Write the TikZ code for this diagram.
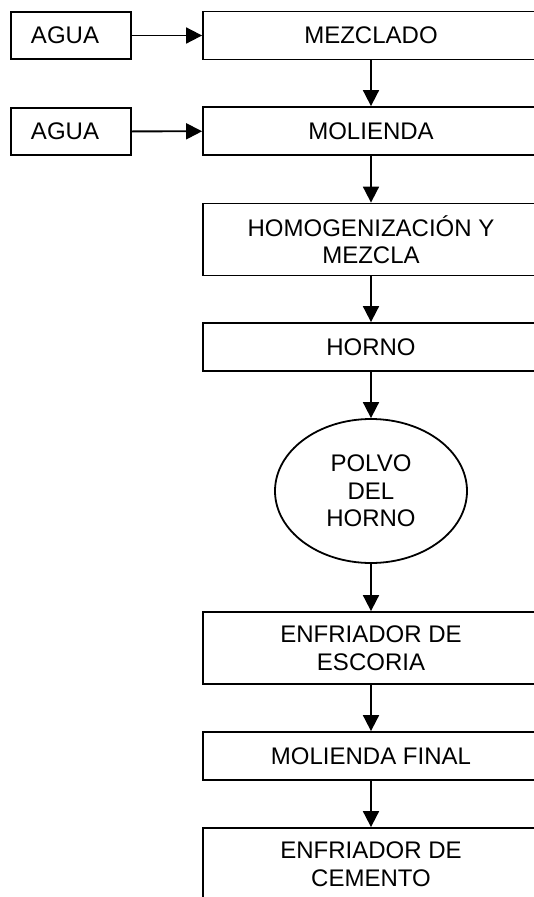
\documentclass[tikz,border=0pt]{standalone}
\usepackage{fontspec}
\setmainfont{Liberation Sans}
\usetikzlibrary{shapes.geometric,arrows.meta}
\begin{document}
\begin{tikzpicture}[
    x=1pt, y=-1pt,
    stage/.style={
        rectangle,
        draw=black,
        line width=1.8pt,
        minimum width=336pt,
        minimum height=48pt,
        inner sep=0pt,
        align=center,
        font=\fontsize{24}{27.5}\selectfont
    },
    tall/.style={
        minimum height=72pt
    },
    feed/.style={
        stage,
        minimum width=120pt,
        minimum height=47pt
    },
    dust/.style={
        ellipse,
        draw=black,
        line width=1.8pt,
        minimum width=192pt,
        minimum height=144pt,
        inner sep=0pt,
        align=center,
        font=\fontsize{24}{27.5}\selectfont
    },
    arrow/.style={
        -{Triangle[length=16pt,width=16pt]},
        line width=1.8pt,
        black
    }
]

% Page frame (boxes run past the right and bottom edges)
\useasboundingbox (0,0) rectangle (534,897);
\fill[white] (0,0) rectangle (534,897);
\clip (0,0) rectangle (534,897);

% Water inputs
\node[feed] (agua1) at (71, 35.5) {AGUA\hspace*{12pt}};
\node[feed] (agua2) at (71, 131.5) {AGUA\hspace*{12pt}};

% Process stages
\node[stage] (mez) at (371, 35.5) {MEZCLADO};
\node[stage] (mol) at (371, 131) {MOLIENDA};
\node[stage, tall] (homo) at (371, 239.5) {HOMOGENIZACIÓN Y\\MEZCLA};
\node[stage] (horno) at (371, 347) {HORNO};
\node[dust] (polvo) at (371, 491) {POLVO\\DEL\\HORNO};
\node[stage, tall] (escoria) at (371, 648) {ENFRIADOR DE\\ESCORIA};
\node[stage] (molfin) at (371, 756) {MOLIENDA FINAL};
\node[stage, tall] (cemento) at (371, 864) {ENFRIADOR DE\\CEMENTO};

% Water feeds
\draw[arrow] (agua1) -- (mez);
\draw[arrow] (agua2) -- (mol);

% Main flow
\draw[arrow] (mez) -- (mol);
\draw[arrow] (mol) -- (homo);
\draw[arrow] (homo) -- (horno);
\draw[arrow] (horno) -- (polvo);
\draw[arrow] (polvo) -- (escoria);
\draw[arrow] (escoria) -- (molfin);
\draw[arrow] (molfin) -- (cemento);

\end{tikzpicture}
\end{document}
